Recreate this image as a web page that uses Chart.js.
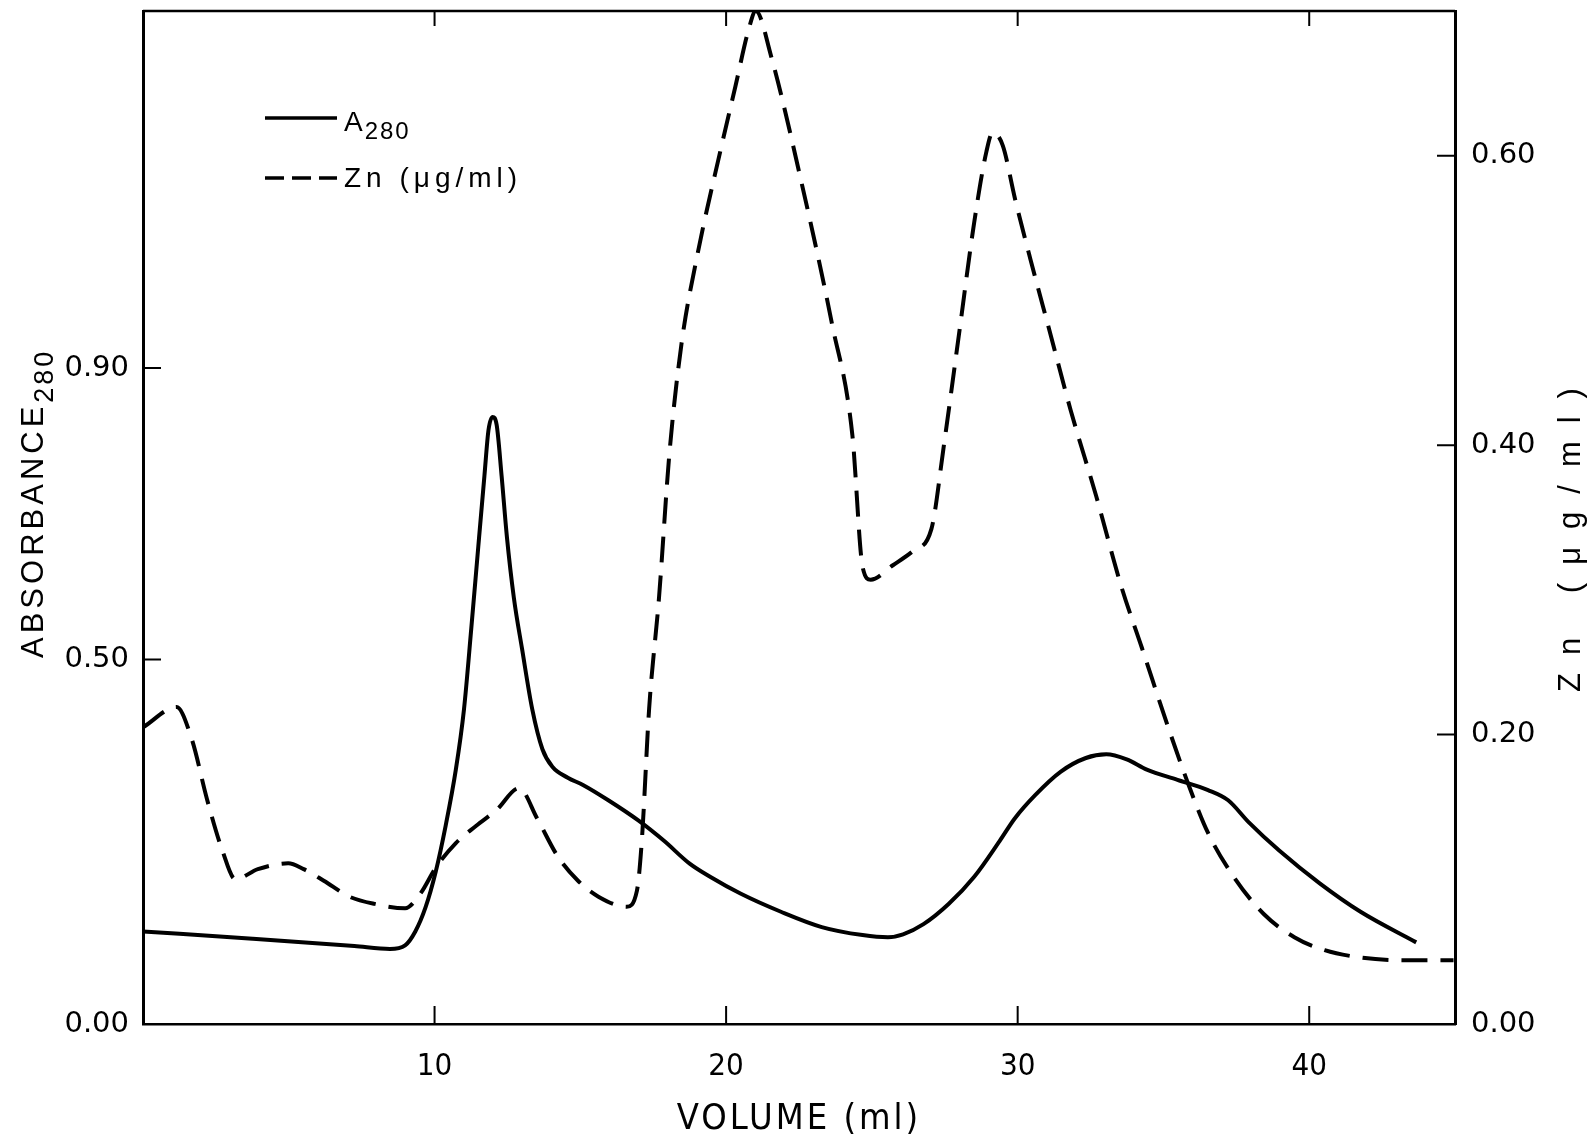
<!DOCTYPE html>
<html>
<head>
<meta charset="utf-8">
<script src="https://cdn.jsdelivr.net/npm/chart.js@4.4.0/dist/chart.umd.min.js"></script>
<style>
  html, body { margin: 0; padding: 0; background: #fff; }
  #wrap { width: 1588px; height: 1137px; position: relative; }
</style>
</head>
<body>
<div id="wrap"><canvas id="chart"></canvas></div>
<script>
// --- Data ---

// A280 (solid line, left axis)
const volA = [0, 3.76, 7.25, 8.47, 8.99, 9.34, 9.69, 10.04, 10.38, 10.73, 11.01, 11.26, 11.50, 11.71, 11.85, 11.99,
  12.13, 12.30, 12.48, 12.72, 13.00, 13.35, 13.70, 14.04, 14.57, 15.09, 15.96, 17.00, 17.88, 18.75, 19.45,
  20.49, 21.88, 23.28, 24.68, 25.55, 26.07, 26.77, 27.64, 28.51, 29.38, 29.90, 30.60, 31.47, 32.34, 33.04,
  33.74, 34.43, 35.48, 36.53, 37.22, 37.92, 38.97, 40.36, 41.76, 43.67];
const a280 = [0.127, 0.117, 0.107, 0.103, 0.108, 0.127, 0.160, 0.209, 0.272, 0.349, 0.432, 0.543, 0.655, 0.752, 0.815, 0.833,
  0.822, 0.752, 0.669, 0.585, 0.515, 0.432, 0.377, 0.353, 0.338, 0.328, 0.307, 0.279, 0.251, 0.220, 0.202,
  0.179, 0.154, 0.133, 0.122, 0.119, 0.123, 0.137, 0.165, 0.202, 0.251, 0.282, 0.314, 0.346, 0.365, 0.370,
  0.363, 0.349, 0.335, 0.321, 0.307, 0.277, 0.238, 0.193, 0.154, 0.112];

// Zn in ug/ml (dashed line, right axis)
const volZn = [0, 1.15, 1.67, 2.20, 2.72, 3.17, 3.94, 4.98, 5.51, 6.20, 7.08, 7.94, 8.99, 9.51, 10.04, 10.73,
  11.43, 12.13, 12.90, 13.52, 14.22, 14.92, 15.62, 16.59, 16.94, 17.11, 17.36, 17.70, 18.05, 18.47, 19.03,
  19.80, 20.32, 20.77, 21.02, 21.54, 22.58, 23.63, 24.33, 24.68, 24.96, 25.72, 26.42, 27.04, 27.47, 27.99,
  28.51, 28.93, 29.14, 29.49, 29.90, 30.43, 31.12, 31.82, 32.69, 33.56, 34.26, 35.13, 35.83, 36.53, 37.40,
  38.44, 39.49, 40.53, 41.76, 43.32, 44.95];
const zn = [0.205, 0.219, 0.197, 0.155, 0.120, 0.100, 0.107, 0.111, 0.107, 0.099, 0.088, 0.083, 0.080, 0.090, 0.108, 0.125,
  0.137, 0.148, 0.163, 0.142, 0.116, 0.099, 0.088, 0.081, 0.092, 0.127, 0.218, 0.295, 0.393, 0.470, 0.533,
  0.603, 0.648, 0.687, 0.700, 0.669, 0.582, 0.484, 0.407, 0.316, 0.307, 0.317, 0.327, 0.342, 0.400, 0.477,
  0.554, 0.603, 0.616, 0.607, 0.571, 0.529, 0.477, 0.424, 0.365, 0.302, 0.260, 0.207, 0.167, 0.132, 0.102,
  0.076, 0.060, 0.051, 0.046, 0.044, 0.044];

const xTicks = [10, 20, 30, 40];
const leftTicks = [0, 0.5, 0.9];
const rightTicks = [0, 0.2, 0.4, 0.6];

const seriesLabels = ['A280', 'Zn (\u03bcg/ml)'];

// --- Fonts ---
const SANS = '"Liberation Sans", Arial, sans-serif';
const WIDE = '"DejaVu Sans", ' + SANS;
const NARROW = '"Liberation Sans Narrow", "DejaVu Sans Condensed", "Roboto Condensed", ' + SANS;

// --- Frame, inner ticks, axis titles, legend ---
const framePlugin = {
    id: 'frame',
    afterDraw(chart) {
        const { ctx, chartArea: a, scales } = chart;
        ctx.save();
        ctx.strokeStyle = '#000';
        ctx.fillStyle = '#000';

        // top border
        ctx.lineWidth = 2.5;
        ctx.beginPath();
        ctx.moveTo(a.left, a.top);
        ctx.lineTo(a.right, a.top);
        ctx.stroke();

        // inner tick marks
        ctx.lineWidth = 2;
        ctx.beginPath();
        xTicks.forEach(v => {
            const px = scales.x.getPixelForValue(v);
            ctx.moveTo(px, a.bottom); ctx.lineTo(px, a.bottom - 18);
            ctx.moveTo(px, a.top); ctx.lineTo(px, a.top + 15);
        });
        leftTicks.slice(1).forEach(v => {
            const py = scales.y.getPixelForValue(v);
            ctx.moveTo(a.left, py); ctx.lineTo(a.left + 18, py);
        });
        rightTicks.slice(1).forEach(v => {
            const py = scales.y1.getPixelForValue(v);
            ctx.moveTo(a.right, py); ctx.lineTo(a.right - 18, py);
        });
        ctx.stroke();

        // x title
        ctx.font = '36px ' + NARROW;
        ctx.textAlign = 'center';
        ctx.textBaseline = 'alphabetic';
        ctx.letterSpacing = '3px';
        ctx.fillText('VOLUME (ml)', (a.left + a.right) / 2, 1129);

        // left title with subscript, reading bottom to top
        ctx.save();
        ctx.translate(43, 658);
        ctx.rotate(-Math.PI / 2);
        ctx.textAlign = 'left';
        ctx.letterSpacing = '4px';
        ctx.font = '31px ' + SANS;
        const w1 = ctx.measureText('ABSORBANCE').width;
        ctx.fillText('ABSORBANCE', 0, 0);
        ctx.letterSpacing = '3px';
        ctx.font = '27px ' + SANS;
        ctx.fillText('280', w1, 10);
        ctx.restore();

        // right title
        ctx.save();
        ctx.translate(1580, 531);
        ctx.rotate(-Math.PI / 2);
        ctx.textAlign = 'center';
        ctx.letterSpacing = '18px';
        ctx.font = '31px ' + SANS;
        ctx.fillText(seriesLabels[1], 0, 0);
        ctx.restore();

        // legend
        const ds = chart.data.datasets;
        ctx.lineWidth = 3.5;
        ctx.setLineDash([]);
        ctx.beginPath();
        ctx.moveTo(265, 118); ctx.lineTo(337, 118);
        ctx.stroke();
        ctx.setLineDash([19, 8]);
        ctx.beginPath();
        ctx.moveTo(265, 178); ctx.lineTo(337, 178);
        ctx.stroke();
        ctx.setLineDash([]);

        ctx.textAlign = 'left';
        ctx.letterSpacing = '2px';
        ctx.font = '28px ' + SANS;
        ctx.fillText('A', 344, 131);
        const wA = ctx.measureText('A').width;
        ctx.font = '24px ' + SANS;
        ctx.fillText(ds[0].label.slice(1), 344 + wA, 139);
        ctx.letterSpacing = '5px';
        ctx.font = '28px ' + SANS;
        ctx.fillText(ds[1].label, 344, 187);

        ctx.restore();
    }
};

// --- Chart ---
const ctx = document.getElementById('chart').getContext('2d');

const noPad = s => { s.paddingTop = 0; s.paddingBottom = 0; s.paddingLeft = 0; s.paddingRight = 0; };

const chart = new Chart(ctx, {
    type: 'line',
    data: {
        datasets: [
            {
                label: seriesLabels[0],
                data: volA.map((v, i) => ({ x: v, y: a280[i] })),
                yAxisID: 'y',
                borderColor: '#000',
                borderWidth: 4,
                pointRadius: 0,
                fill: false,
                cubicInterpolationMode: 'monotone'
            },
            {
                label: seriesLabels[1],
                data: volZn.map((v, i) => ({ x: v, y: zn[i] })),
                yAxisID: 'y1',
                borderColor: '#000',
                borderWidth: 4,
                borderDash: [26, 13],
                pointRadius: 0,
                fill: false,
                cubicInterpolationMode: 'monotone'
            }
        ]
    },
    options: {
        responsive: true,
        maintainAspectRatio: false,
        animation: false,
        devicePixelRatio: 1,
        layout: { padding: { top: 11, left: 0, right: 0, bottom: 0 } },
        plugins: {
            legend: { display: false },
            tooltip: { enabled: false }
        },
        scales: {
            x: {
                type: 'linear',
                min: 0,
                max: 45,
                afterBuildTicks: s => { s.ticks = xTicks.map(v => ({ value: v })); },
                afterFit: s => { s.height = 113; noPad(s); },
                grid: { display: false, drawTicks: false },
                border: { display: true, color: '#000', width: 2.5 },
                ticks: {
                    color: '#000',
                    padding: 24,
                    maxRotation: 0,
                    font: { family: NARROW, size: 31 }
                }
            },
            y: {
                position: 'left',
                min: 0,
                max: 1.39,
                afterBuildTicks: s => { s.ticks = leftTicks.map(v => ({ value: v })); },
                afterFit: s => { s.width = 143; noPad(s); },
                grid: { display: false, drawTicks: false },
                border: { display: true, color: '#000', width: 3 },
                ticks: {
                    color: '#000',
                    padding: 14,
                    font: { family: WIDE, size: 29 },
                    callback: v => Number(v).toFixed(2)
                }
            },
            y1: {
                position: 'right',
                min: 0,
                max: 0.70,
                afterBuildTicks: s => { s.ticks = rightTicks.map(v => ({ value: v })); },
                afterFit: s => { s.width = 133; noPad(s); },
                grid: { display: false, drawTicks: false },
                border: { display: true, color: '#000', width: 3 },
                ticks: {
                    color: '#000',
                    padding: 16,
                    font: { family: WIDE, size: 29 },
                    callback: v => Number(v).toFixed(2)
                }
            }
        }
    },
    plugins: [framePlugin]
});
</script>
</body>
</html>
